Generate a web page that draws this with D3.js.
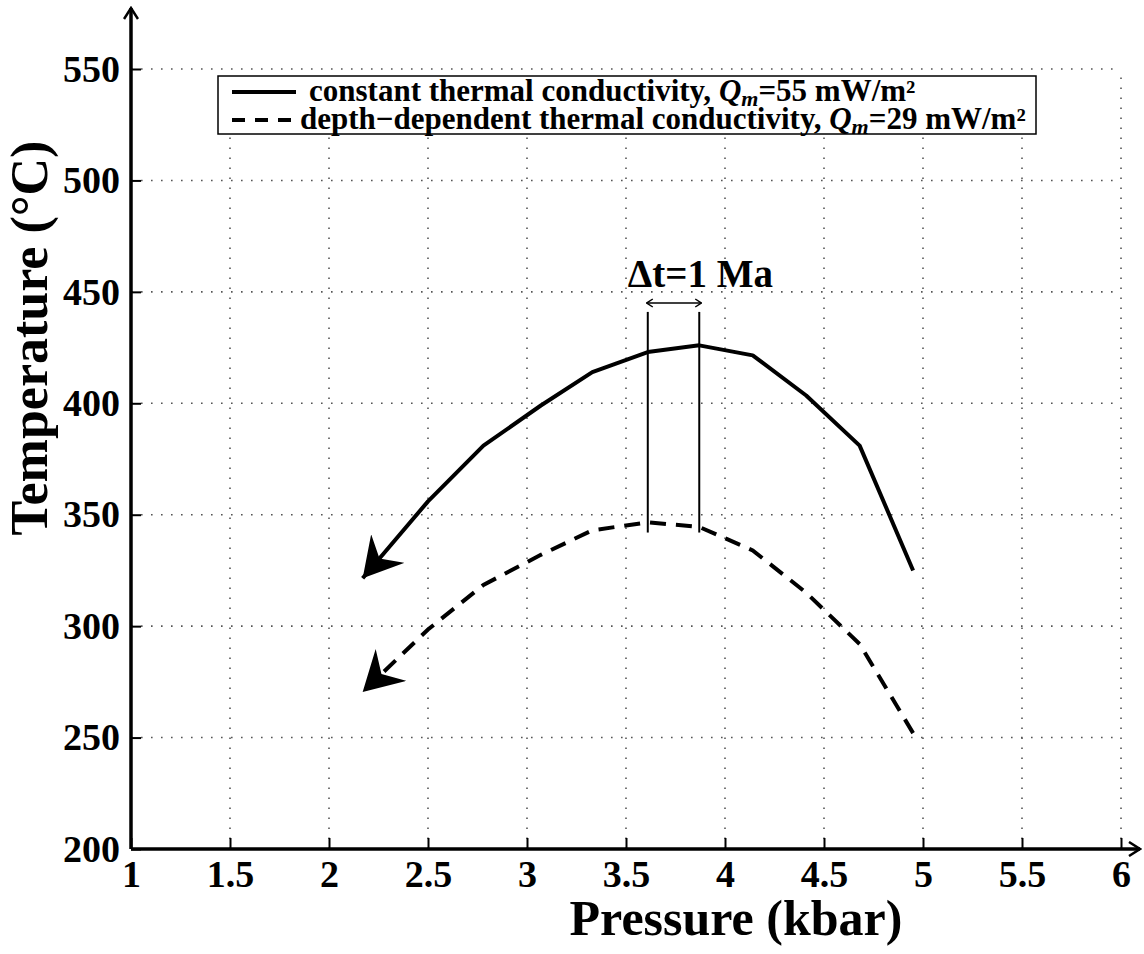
<!DOCTYPE html>
<html>
<head>
<meta charset="utf-8">
<script src="https://cdn.jsdelivr.net/npm/d3@7"></script>
<style>
  body { margin: 0; background: #fff; }
  text { font-family: "Liberation Serif", "Times New Roman", serif; font-weight: bold; fill: #000; }
</style>
</head>
<body>
<script>
(function () {
  'use strict'

  // Data (pressure in kbar, temperature in degC)
  var pressure = [4.95, 4.68, 4.41, 4.14, 3.87, 3.61, 3.33, 3.07, 2.78, 2.5, 2.17]
  var tempConstant = [325, 381, 403.5, 421.5, 426, 423, 414, 399, 381, 356, 321.5]
  var tempDepth = [252, 292, 315, 334, 344.5, 346.6, 343, 332, 318.5, 298.5, 270.5]

  var xTicks = [1, 1.5, 2, 2.5, 3, 3.5, 4, 4.5, 5, 5.5, 6]
  var yTicks = [200, 250, 300, 350, 400, 450, 500, 550]

  // Delta t bracket
  var bracketP = [3.61, 3.87]
  var bracketT = [342, 441]
  var bracketArrowT = 445

  var legendLabels = ['constant thermal conductivity, ', 'depth\u2212dependent thermal conductivity, ']
  var legendQm = ['55', '29']

  var w = 1144
  var h = 954
  var left = 131
  var right = 1121
  var top = 69
  var bottom = 849

  var x = d3.scaleLinear().domain([1, 6]).range([left, right])
  var y = d3.scaleLinear().domain([200, 550]).range([bottom, top])

  var svg = d3.select('body').append('svg')
    .attr('width', w)
    .attr('height', h)

  var defs = svg.append('defs')

  // Filled barbed arrowhead for the curves
  defs.append('marker')
    .attr('id', 'barb')
    .attr('markerUnits', 'userSpaceOnUse')
    .attr('viewBox', '0 0 40 44')
    .attr('markerWidth', 40)
    .attr('markerHeight', 44)
    .attr('refX', 39)
    .attr('refY', 22)
    .attr('orient', 'auto')
    .append('path')
      .attr('d', 'M39,22 L0,0 L13,22 L0,44 Z')
      .attr('fill', '#000')

  // Open arrowhead for the axes
  defs.append('marker')
    .attr('id', 'open')
    .attr('markerUnits', 'userSpaceOnUse')
    .attr('viewBox', '0 0 14 16')
    .attr('markerWidth', 14)
    .attr('markerHeight', 16)
    .attr('refX', 12)
    .attr('refY', 8)
    .attr('orient', 'auto')
    .append('path')
      .attr('d', 'M1,1 L12,8 L1,15')
      .attr('fill', 'none')
      .attr('stroke', '#000')
      .attr('stroke-width', 2.5)

  // Small open arrowhead for the bracket
  defs.append('marker')
    .attr('id', 'small')
    .attr('markerUnits', 'userSpaceOnUse')
    .attr('viewBox', '0 0 8 10')
    .attr('markerWidth', 8)
    .attr('markerHeight', 10)
    .attr('refX', 7)
    .attr('refY', 5)
    .attr('orient', 'auto-start-reverse')
    .append('path')
      .attr('d', 'M1,1 L7,5 L1,9')
      .attr('fill', 'none')
      .attr('stroke', '#000')
      .attr('stroke-width', 1.5)

  // Dotted grid
  var grid = svg.append('g')
    .attr('stroke', '#555')
    .attr('stroke-width', 1.6)
    .attr('stroke-dasharray', '1.6,8.4')

  grid.selectAll('.gx')
    .data(xTicks.slice(1))
    .enter().append('line')
      .attr('x1', function (d) { return x(d) })
      .attr('x2', function (d) { return x(d) })
      .attr('y1', bottom)
      .attr('y2', top)

  grid.selectAll('.gy')
    .data(yTicks.slice(1))
    .enter().append('line')
      .attr('x1', left)
      .attr('x2', right)
      .attr('y1', function (d) { return y(d) })
      .attr('y2', function (d) { return y(d) })

  // Axes (ticks point inward)
  var xAxis = d3.axisBottom(x)
    .tickValues(xTicks)
    .tickFormat(d3.format(''))
    .tickSizeInner(-11)
    .tickSizeOuter(0)
    .tickPadding(11)

  var yAxis = d3.axisLeft(y)
    .tickValues(yTicks)
    .tickFormat(d3.format(''))
    .tickSizeInner(-10)
    .tickSizeOuter(0)
    .tickPadding(11)

  var gx = svg.append('g')
    .attr('transform', 'translate(0,' + bottom + ')')
    .call(xAxis)
  var gy = svg.append('g')
    .attr('transform', 'translate(' + left + ',0)')
    .call(yAxis)

  ;[gx, gy].forEach(function (g) {
    g.select('.domain').remove()
    g.selectAll('.tick line').attr('stroke', '#000').attr('stroke-width', 2)
    g.selectAll('.tick text')
      .attr('font-family', '"Liberation Serif", "Times New Roman", serif')
      .attr('font-weight', 'bold')
      .attr('font-size', 38)
  })

  // Axis lines with arrows
  svg.append('line')
    .attr('x1', left).attr('y1', bottom)
    .attr('x2', 1140).attr('y2', bottom)
    .attr('stroke', '#000').attr('stroke-width', 3.5)
    .attr('marker-end', 'url(#open)')
  svg.append('line')
    .attr('x1', left).attr('y1', bottom)
    .attr('x2', left).attr('y2', 8)
    .attr('stroke', '#000').attr('stroke-width', 3.5)
    .attr('marker-end', 'url(#open)')

  // Curves
  var line = d3.line()
    .x(function (d) { return x(d[0]) })
    .y(function (d) { return y(d[1]) })

  svg.append('path')
    .datum(d3.zip(pressure, tempConstant))
    .attr('d', line)
    .attr('fill', 'none')
    .attr('stroke', '#000')
    .attr('stroke-width', 4)
    .attr('stroke-linejoin', 'round')
    .attr('marker-end', 'url(#barb)')

  svg.append('path')
    .datum(d3.zip(pressure, tempDepth))
    .attr('d', line)
    .attr('fill', 'none')
    .attr('stroke', '#000')
    .attr('stroke-width', 4)
    .attr('stroke-dasharray', '16,10')
    .attr('marker-end', 'url(#barb)')

  // Delta t bracket
  svg.selectAll('.bracket')
    .data(bracketP)
    .enter().append('line')
      .attr('x1', function (d) { return x(d) })
      .attr('x2', function (d) { return x(d) })
      .attr('y1', y(bracketT[0]))
      .attr('y2', y(bracketT[1]))
      .attr('stroke', '#000')
      .attr('stroke-width', 2)

  svg.append('line')
    .attr('x1', x(bracketP[0]) - 1)
    .attr('x2', x(bracketP[1]) + 2)
    .attr('y1', y(bracketArrowT))
    .attr('y2', y(bracketArrowT))
    .attr('stroke', '#000')
    .attr('stroke-width', 1.5)
    .attr('marker-start', 'url(#small)')
    .attr('marker-end', 'url(#small)')

  svg.append('text')
    .attr('x', x(bracketP[0]) - 20)
    .attr('y', 287)
    .attr('font-size', 39)
    .text('\u0394t=1 Ma')

  // Legend
  var legend = svg.append('g')
  legend.append('rect')
    .attr('x', 218).attr('y', 76)
    .attr('width', 818).attr('height', 58)
    .attr('fill', '#fff')
    .attr('stroke', '#000')
    .attr('stroke-width', 1.5)

  legend.append('line')
    .attr('x1', 232).attr('x2', 296)
    .attr('y1', 92).attr('y2', 92)
    .attr('stroke', '#000').attr('stroke-width', 4)
  legend.append('line')
    .attr('x1', 232).attr('x2', 292)
    .attr('y1', 120).attr('y2', 120)
    .attr('stroke', '#000').attr('stroke-width', 4)
    .attr('stroke-dasharray', '13,10')

  var legendX = [309, 300]
  var legendY = [101, 129]
  legendLabels.forEach(function (label, i) {
    var t = legend.append('text')
      .attr('x', legendX[i])
      .attr('y', legendY[i])
      .attr('font-size', 31)
    t.append('tspan').text(label)
    t.append('tspan').attr('font-style', 'italic').text('Q')
    t.append('tspan').attr('font-style', 'italic').attr('font-size', 22).attr('dy', 5).text('m')
    t.append('tspan').attr('dy', -5).text('=' + legendQm[i] + ' mW/m\u00b2')
  })

  // Axis titles
  svg.append('text')
    .attr('x', 736)
    .attr('y', 935)
    .attr('text-anchor', 'middle')
    .attr('font-size', 50)
    .text('Pressure (kbar)')

  svg.append('text')
    .attr('transform', 'translate(47,338) rotate(-90)')
    .attr('text-anchor', 'middle')
    .attr('font-size', 52)
    .text('Temperature (\u00b0C)')
}())
</script>
</body>
</html>
